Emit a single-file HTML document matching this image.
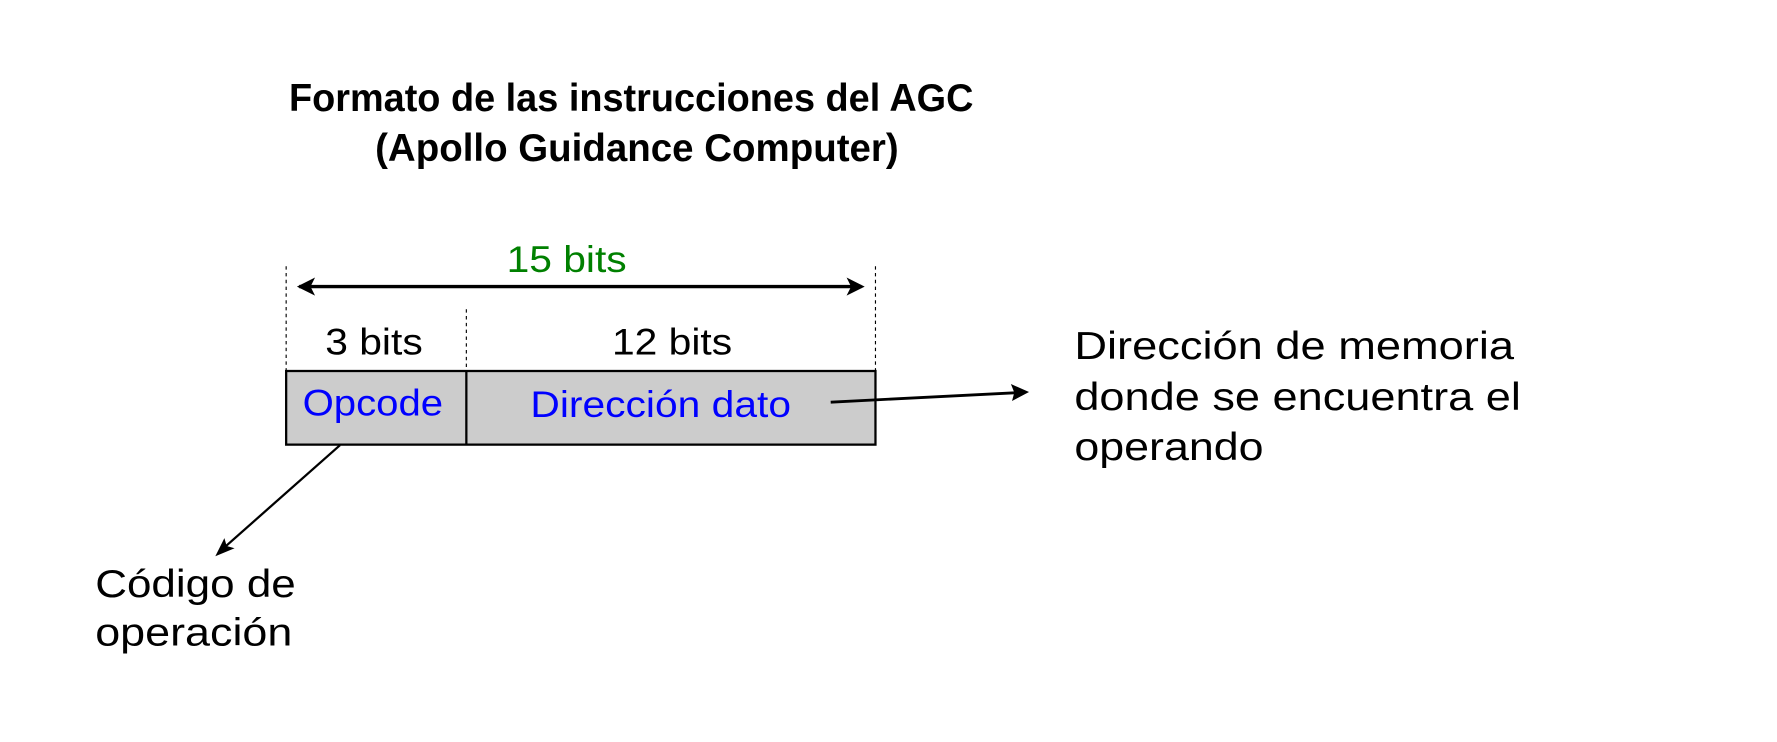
<!DOCTYPE html>
<html><head><meta charset="utf-8"><style>html,body{margin:0;padding:0;background:#fff}svg{display:block}</style></head>
<body>
<svg width="1777" height="742" viewBox="0 0 1568 655" preserveAspectRatio="none" xmlns="http://www.w3.org/2000/svg" font-family="'Liberation Sans','DejaVu Sans',sans-serif">
<text x="557" y="98" text-anchor="middle" font-size="34" font-weight="600" textLength="604" lengthAdjust="spacingAndGlyphs">Formato de las instrucciones del AGC</text>
<text x="562" y="142" text-anchor="middle" font-size="34" font-weight="600" textLength="462" lengthAdjust="spacingAndGlyphs">(Apollo Guidance Computer)</text>
<text x="500" y="240" text-anchor="middle" font-size="33" fill="#008000" textLength="106" lengthAdjust="spacingAndGlyphs">15 bits</text>
<g stroke="#000" stroke-width="1" stroke-dasharray="3,3" fill="none">
<line x1="252.5" y1="235" x2="252.5" y2="327"/>
<line x1="772.5" y1="235" x2="772.5" y2="327"/>
<line x1="411.5" y1="273" x2="411.5" y2="327"/>
</g>
<line x1="264" y1="253" x2="760" y2="253" stroke="#000" stroke-width="3"/>
<path d="M262,253 L278,245 L274,253 L278,261 Z" fill="#000"/>
<path d="M763,253 L747,245 L751,253 L747,261 Z" fill="#000"/>
<text x="330" y="313" text-anchor="middle" font-size="33" textLength="86" lengthAdjust="spacingAndGlyphs">3 bits</text>
<text x="593" y="313" text-anchor="middle" font-size="33" textLength="106" lengthAdjust="spacingAndGlyphs">12 bits</text>
<rect x="252.5" y="327.5" width="520" height="65" fill="#cccccc" stroke="#000" stroke-width="2"/>
<line x1="411.5" y1="327" x2="411.5" y2="393" stroke="#000" stroke-width="2"/>
<text x="329" y="367" text-anchor="middle" font-size="33" fill="#0000ff" textLength="124" lengthAdjust="spacingAndGlyphs">Opcode</text>
<text x="583" y="368" text-anchor="middle" font-size="33" fill="#0000ff" textLength="230" lengthAdjust="spacingAndGlyphs">Dirección dato</text>
<line x1="733" y1="355" x2="900" y2="346.5" stroke="#000" stroke-width="2.5"/>
<path d="M908,346 L892,339 L895,346.5 L893,354 Z" fill="#000"/>
<line x1="300" y1="393" x2="196" y2="485" stroke="#000" stroke-width="2"/>
<path d="M190,491 L198,475 L200,482 L207,484 Z" fill="#000"/>
<g font-size="34">
<text x="948" y="317" textLength="388" lengthAdjust="spacingAndGlyphs">Dirección de memoria</text>
<text x="948" y="362" textLength="394" lengthAdjust="spacingAndGlyphs">donde se encuentra el</text>
<text x="948" y="406" textLength="167" lengthAdjust="spacingAndGlyphs">operando</text>
<text x="84" y="527" textLength="177" lengthAdjust="spacingAndGlyphs">Código de</text>
<text x="84" y="570" textLength="174" lengthAdjust="spacingAndGlyphs">operación</text>
</g>
</svg>
</body></html>
